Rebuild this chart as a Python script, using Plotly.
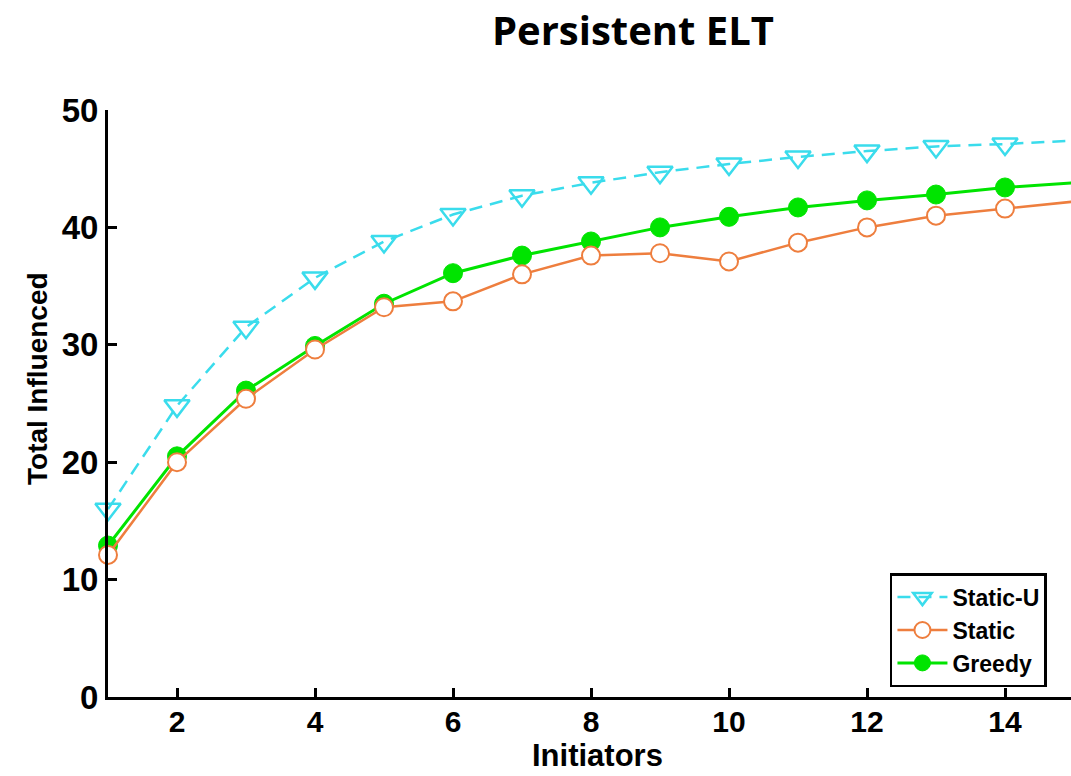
import plotly.graph_objects as go

initiators = list(range(1, 16))
static_u = [16.0, 24.8, 31.5, 35.7, 38.8, 41.1, 42.7, 43.8, 44.7, 45.4, 46.0, 46.5, 46.9, 47.1, 47.4]
static = [12.1, 20.0, 25.4, 29.6, 33.2, 33.7, 36.0, 37.6, 37.8, 37.1, 38.7, 40.0, 41.0, 41.6, 42.2]
greedy = [12.9, 20.5, 26.1, 29.9, 33.5, 36.1, 37.6, 38.8, 40.0, 40.9, 41.7, 42.3, 42.8, 43.4, 43.8]
x_ticks = [2, 4, 6, 8, 10, 12, 14]
y_ticks = [0, 10, 20, 30, 40, 50]

cyan = "#3ADCEC"
orange = "#EE7E3E"
green = "#00E400"

fig = go.Figure()
fig.add_trace(go.Scatter(
    x=initiators, y=static_u, name="<b>Static-U</b>", mode="lines+markers", legendrank=1,
    line=dict(color=cyan, width=2.5, dash="13px,8px"),
    marker=dict(symbol="triangle-down-open", size=22, color=cyan, line=dict(width=2.5, color=cyan)),
    cliponaxis=False))
fig.add_trace(go.Scatter(
    x=initiators, y=greedy, name="<b>Greedy</b>", mode="lines+markers", legendrank=3,
    line=dict(color=green, width=3),
    marker=dict(symbol="circle", size=19, color=green, line=dict(width=1, color=green)),
    cliponaxis=False))
fig.add_trace(go.Scatter(
    x=initiators, y=static, name="<b>Static</b>", mode="lines+markers", legendrank=2,
    line=dict(color=orange, width=2.5),
    marker=dict(symbol="circle", size=18, color="white", line=dict(width=2, color=orange)),
    cliponaxis=False))

L, T, R, B = 108, 110, 1071, 697
def px(xp):
    return (xp - L) / (R - L)
def py(yp):
    return (B - yp) / (B - T)

fig.update_layout(
    width=1071, height=776,
    margin=dict(l=L, r=0, t=T, b=776 - B),
    paper_bgcolor="white", plot_bgcolor="white",
    title=dict(text="<b>Persistent ELT</b>", x=0.591, xanchor="center", y=1 - 31 / 776, yanchor="middle",
               font=dict(family="Open Sans", size=40, color="black")),
    font=dict(family="Liberation Sans", color="black"),
    legend=dict(x=0.812, y=0.211, xanchor="left", yanchor="top",
                bordercolor="black", borderwidth=2.5, bgcolor="white",
                font=dict(family="Liberation Sans", size=23, color="black"),
                itemwidth=50, tracegroupgap=0),
    showlegend=True,
    annotations=[
        dict(text="<b>Initiators</b>", xref="paper", yref="paper", x=px(597), y=py(755),
             xanchor="center", yanchor="middle", showarrow=False,
             font=dict(family="Liberation Sans", size=31, color="black")),
        dict(text="<b>Total Influenced</b>", xref="paper", yref="paper", x=px(37), y=py(379),
             xanchor="center", yanchor="middle", showarrow=False, textangle=-90,
             font=dict(family="Liberation Sans", size=28, color="black")),
    ],
)
fig.update_xaxes(
    range=[1, 1 + 963 / 69], tickmode="array", tickvals=x_ticks,
    ticktext=["<b>%d</b>" % v for v in x_ticks],
    ticks="inside", ticklen=9, tickwidth=2.5, tickcolor="black", ticklabelstandoff=-4,
    showline=True, linewidth=3, linecolor="black", showgrid=False, zeroline=False,
    tickfont=dict(size=30, family="Liberation Sans", color="black"),
)
fig.update_yaxes(
    range=[0, 50], tickmode="array", tickvals=y_ticks,
    ticktext=["<b>%d</b>" % v for v in y_ticks],
    ticks="inside", ticklen=9, tickwidth=2.5, tickcolor="black",
    showline=True, linewidth=3, linecolor="black", showgrid=False, zeroline=False,
    tickfont=dict(size=33, family="Liberation Sans", color="black"),
)

fig.write_html("out.html")
